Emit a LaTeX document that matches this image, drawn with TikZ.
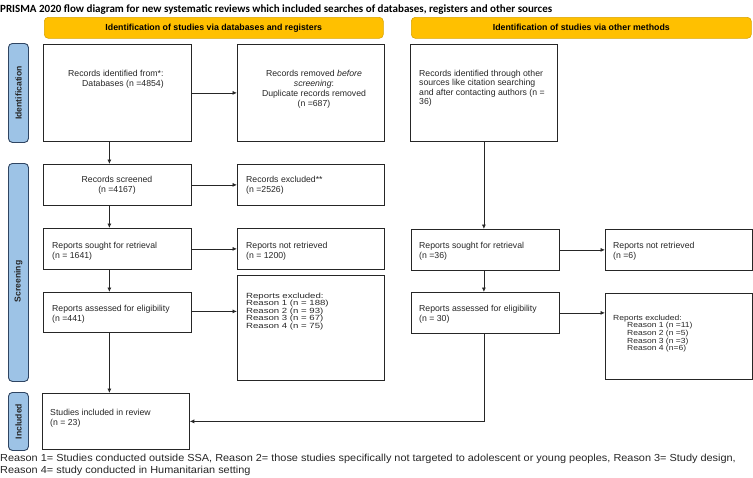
\documentclass[tikz,border=0pt]{standalone}
\usepackage{fontspec}
\setmainfont{Liberation Sans}
\newfontfamily\titlef{Carlito}
\newfontfamily\footf[FakeStretch=1.07]{Liberation Sans}
\newfontfamily\exlf[FakeStretch=1.28]{Liberation Sans}
\newfontfamily\rexlf[FakeStretch=1.15]{Liberation Sans}
\usetikzlibrary{arrows.meta}
\newcommand\mytightlines{\lineskiplimit-20pt\relax\lineskip0pt\relax}
\definecolor{hdrfill}{HTML}{FFC000}
\definecolor{hdrdraw}{HTML}{D9A400}
\definecolor{sidefill}{HTML}{9DC3E6}
\definecolor{sidedraw}{HTML}{2F4562}
\tikzset{
  box/.style={draw=black!85, line width=0.75pt, anchor=north west, inner sep=0pt},
  hdr/.style={draw=hdrdraw, fill=hdrfill, rounded corners=4pt, line width=0.6pt, anchor=north west, inner sep=0pt},
  hdrtext/.style={font=\fontsize{8.8}{10}\selectfont\bfseries, inner sep=0pt},
  side/.style={draw=sidedraw, fill=sidefill, rounded corners=4pt, line width=0.9pt, anchor=north west, inner sep=0pt},
  sidetext/.style={font=\fontsize{8.6}{9}\selectfont\bfseries, rotate=90, inner sep=0pt, text=black!85},
  txt/.style={anchor=base west, inner sep=0pt, align=left, font=\fontsize{8.7}{9.8}\selectfont, text=black!85},
  ctxt/.style={anchor=base, inner sep=0pt, align=center, font=\fontsize{8.7}{9.8}\selectfont, text=black!85},
  exltxt/.style={anchor=base west, inner sep=0pt, align=left, font=\exlf\fontsize{7.5}{7.6}\selectfont\mytightlines, text=black!85},
  rexltxt/.style={anchor=base west, inner sep=0pt, align=left, font=\rexlf\fontsize{7.4}{7.7}\selectfont\mytightlines, text=black!85},
  arr/.style={-{Latex[length=4.5pt,width=4pt]}, line width=0.75pt, draw=black!85},
  ln/.style={line width=0.75pt, draw=black!85}
}
\begin{document}
\begin{tikzpicture}[x=1pt,y=-1pt]
\useasboundingbox (0,0) rectangle (753,477);
% title (base anchor = last line baseline)
\node[anchor=base west, inner sep=0pt, font=\titlef\fontsize{11}{12}\selectfont\bfseries] (title) at (0,12) {PRISMA 2020 flow diagram for new systematic reviews which included searches of databases, registers and other sources};
% headers
\node[hdr, minimum width=339, minimum height=21] (h1) at (44,17) {};
\node[hdrtext] (h1t) at (h1.center) {Identification of studies via databases and registers};
\node[hdr, minimum width=340, minimum height=21] (h2) at (411,17) {};
\node[hdrtext] (h2t) at (h2.center) {Identification of studies via other methods};
% side labels
\node[side, minimum width=20, minimum height=99] (s1) at (8,43) {};
\node[sidetext] (s1t) at (s1.center) {Identification};
\node[side, minimum width=20, minimum height=218] (s2) at (8,163) {};
\node[sidetext] (s2t) at ([yshift=-9pt]s2.center) {Screening};
\node[side, minimum width=20, minimum height=58] (s3) at (8,392) {};
\node[sidetext] (s3t) at (s3.center) {Included};
% boxes
\node[box, minimum width=148, minimum height=97] (b1) at (43,44) {};
\node[box, minimum width=147, minimum height=97] (b2) at (237,44) {};
\node[box, minimum width=147, minimum height=97] (b3) at (410,44) {};
\node[box, minimum width=148, minimum height=41] (scr) at (43,164) {};
\node[box, minimum width=147, minimum height=41] (exc) at (237,164) {};
\node[box, minimum width=148, minimum height=41] (sgt) at (43,228) {};
\node[box, minimum width=147, minimum height=41] (nrt) at (237,228) {};
\node[box, minimum width=148, minimum height=40] (asd) at (43,292) {};
\node[box, minimum width=147, minimum height=105] (exl) at (237,275) {};
\node[box, minimum width=148, minimum height=41] (rsgt) at (411,229) {};
\node[box, minimum width=147, minimum height=41] (rnrt) at (605,229) {};
\node[box, minimum width=148, minimum height=41] (rasd) at (411,292) {};
\node[box, minimum width=147, minimum height=86] (rexl) at (605,293) {};
\node[box, minimum width=147, minimum height=56] (inc) at (42,393) {};
% texts (anchor base = baseline of last line)
\node[txt] (t1) at (68,86) {Records identified from*:\\\hspace*{14pt}Databases (n =4854)};
\node[ctxt] (t2) at (314,106) {Records removed \textit{before}\\\textit{screening}:\\Duplicate records removed\\(n =687)};
\node[txt, font=\fontsize{8.7}{9.6}\selectfont] (t3) at (419,104.8) {Records identified through other\\sources like citation searching\\and after contacting authors (n =\\36)};
\node[ctxt] (tscr) at (117,192) {Records screened\\(n =4167)};
\node[txt] (texc) at (246,192) {Records excluded**\\(n =2526)};
\node[txt] (tsgt) at (52,258) {Reports sought for retrieval\\(n = 1641)};
\node[txt] (tnrt) at (246,258) {Reports not retrieved\\(n = 1200)};
\node[txt] (tasd) at (52,321) {Reports assessed for eligibility\\(n =441)};
\node[exltxt] (texl) at (246,328.4) {Reports excluded:\\Reason 1 (n = 188)\\Reason 2 (n = 93)\\Reason 3 (n = 67)\\Reason 4 (n = 75)};
\node[txt] (trsgt) at (419,258) {Reports sought for retrieval\\(n =36)};
\node[txt] (trnrt) at (613,258) {Reports not retrieved\\(n =6)};
\node[txt] (trasd) at (419,321) {Reports assessed for eligibility\\(n = 30)};
\node[rexltxt] (trexl) at (613,350.8) {Reports excluded:\\\hspace*{14pt}Reason 1 (n =11)\\\hspace*{14pt}Reason 2 (n =5)\\\hspace*{14pt}Reason 3 (n =3)\\\hspace*{14pt}Reason 4 (n=6)};
\node[txt] (tinc) at (50,425) {Studies included in review\\(n = 23)};
% footnote
\node[anchor=base west, inner sep=0pt, align=left, font=\footf\fontsize{10.2}{12}\selectfont, text=black!85] (foot) at (0,473) {Reason 1= Studies conducted outside SSA, Reason 2= those studies specifically not targeted to adolescent or young peoples, Reason 3= Study design,\\Reason 4= study conducted in Humanitarian setting};
% arrows
\draw[arr] ([xshift=-8pt]b1.south) -- ([xshift=-8pt]b1.south |- scr.north);
\draw[arr] (b1.east) -- (b2.west);
\draw[arr] (scr.east) -- (exc.west);
\draw[arr] ([xshift=-8pt]scr.south) -- ([xshift=-8pt]scr.south |- sgt.north);
\draw[arr] (sgt.east) -- (nrt.west);
\draw[arr] ([xshift=-8pt]sgt.south) -- ([xshift=-8pt]sgt.south |- asd.north);
\draw[arr] ([yshift=1pt]asd.east) -- ([yshift=1pt]asd.east -| exl.west);
\draw[arr] ([xshift=-8pt]asd.south) -- ([xshift=-8pt]asd.south |- inc.north);
\draw[arr] (b3.south) -- (b3.south |- rsgt.north);
\draw[arr] (rsgt.east) -- (rnrt.west);
\draw[arr] ([xshift=-1.5pt]rsgt.south) -- ([xshift=-1.5pt]rsgt.south |- rasd.north);
\draw[arr] (rasd.east) -- (rasd.east -| rexl.west);
\coordinate (turn) at ([xshift=-1.5pt]rasd.south |- inc.east);
\draw[arr] ([xshift=-1.5pt]rasd.south) -- (turn) -- (inc.east);
\end{tikzpicture}
\end{document}
